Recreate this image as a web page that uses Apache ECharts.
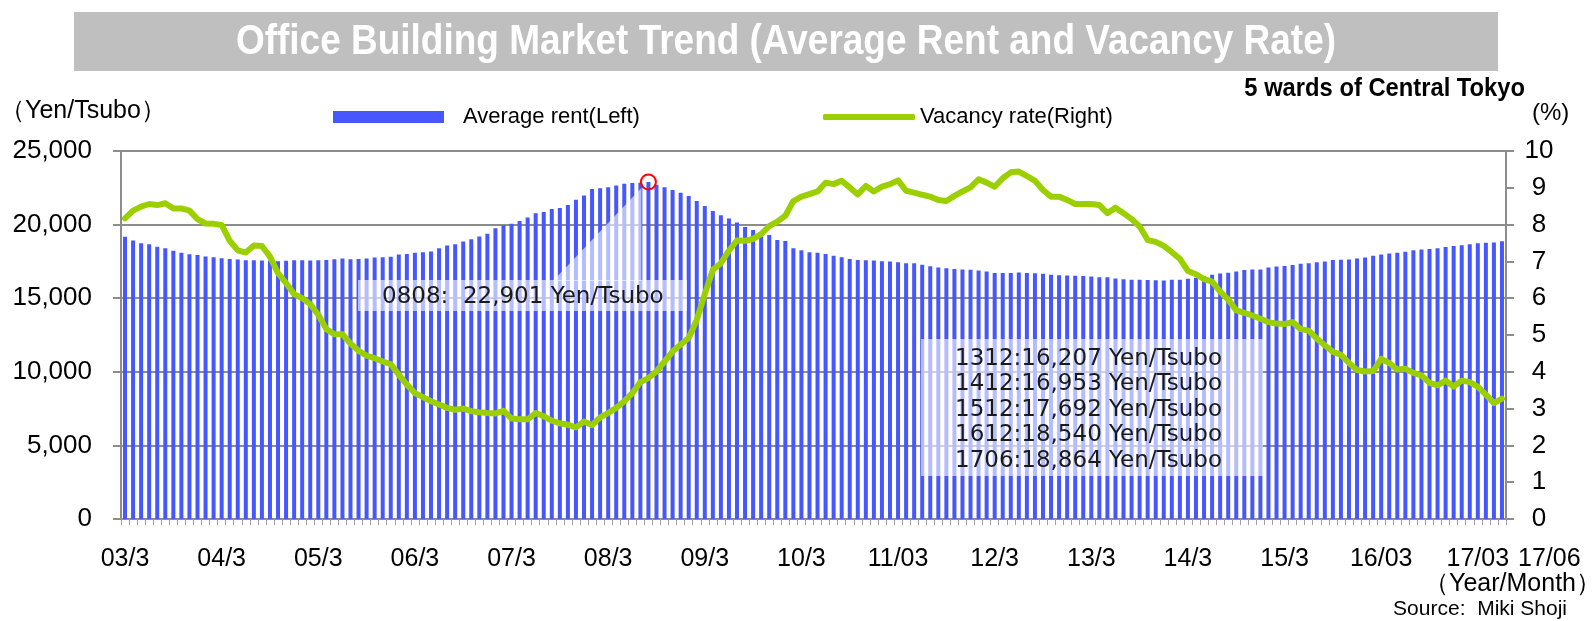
<!DOCTYPE html>
<html>
<head>
<meta charset="utf-8">
<script src="https://cdn.jsdelivr.net/npm/echarts@6/dist/echarts.min.js"></script>
<style>
html, body { margin: 0; padding: 0; background: #fff; }
#chart { width: 1594px; height: 621px; }
</style>
</head>
<body>
<div id="chart"></div>
<script>
// Monthly series, March 2003 through June 2017 (one row per 12 months)
const rent = [
  19170, 18920, 18740, 18670, 18490, 18400, 18220, 18080, 17990, 17940, 17830, 17790,
  17720, 17670, 17630, 17580, 17580, 17560, 17560, 17510, 17540, 17580, 17580, 17560,
  17580, 17600, 17650, 17700, 17650, 17670, 17700, 17760, 17790, 17810, 17970, 18010,
  18080, 18120, 18170, 18400, 18580, 18670, 18860, 19010, 19190, 19370, 19750, 19960,
  20050, 20250, 20480, 20770, 20860, 21060, 21130, 21340, 21680, 21970, 22420, 22470,
  22530, 22650, 22780, 22830, 22850, 22901, 22700, 22530, 22350, 22170, 21950, 21610,
  21270, 20930, 20640, 20410, 20140, 19840, 19640, 19480, 19300, 18960, 18890, 18400,
  18260, 18120, 18080, 18010, 17880, 17790, 17670, 17600, 17580, 17560, 17510, 17490,
  17450, 17380, 17380, 17270, 17170, 17080, 17040, 16990, 16950, 16930, 16880, 16810,
  16720, 16720, 16720, 16750, 16720, 16700, 16660, 16590, 16560, 16540, 16520, 16500,
  16470, 16430, 16430, 16340, 16290, 16250, 16250, 16230, 16220, 16207, 16250, 16250,
  16320, 16390, 16500, 16590, 16680, 16730, 16820, 16910, 16950, 16953, 17090, 17160,
  17180, 17250, 17340, 17380, 17450, 17500, 17590, 17610, 17630, 17692, 17770, 17880,
  17970, 18040, 18090, 18150, 18250, 18310, 18340, 18400, 18470, 18540, 18590, 18660,
  18730, 18760, 18790, 18864
];

const vacancy = [
  8.17, 8.38, 8.49, 8.56, 8.53, 8.58, 8.44, 8.44, 8.38, 8.15, 8.03, 8.02,
  7.99, 7.56, 7.30, 7.24, 7.43, 7.42, 7.13, 6.68, 6.41, 6.11, 6.00, 5.84,
  5.55, 5.16, 5.02, 5.02, 4.77, 4.57, 4.44, 4.37, 4.28, 4.21, 3.92, 3.65,
  3.42, 3.31, 3.20, 3.11, 3.02, 2.97, 3.00, 2.93, 2.90, 2.88, 2.87, 2.94,
  2.73, 2.71, 2.71, 2.88, 2.79, 2.67, 2.60, 2.56, 2.49, 2.65, 2.55, 2.76,
  2.88, 3.02, 3.20, 3.42, 3.72, 3.83, 4.01, 4.28, 4.55, 4.74, 4.92, 5.41,
  6.11, 6.77, 6.95, 7.29, 7.57, 7.56, 7.61, 7.74, 7.96, 8.08, 8.24, 8.64,
  8.76, 8.83, 8.90, 9.14, 9.10, 9.19, 9.01, 8.82, 9.05, 8.90, 9.03, 9.10,
  9.20, 8.92, 8.87, 8.81, 8.76, 8.67, 8.64, 8.78, 8.90, 9.01, 9.23, 9.14,
  9.03, 9.26, 9.42, 9.44, 9.32, 9.19, 8.94, 8.76, 8.76, 8.67, 8.56, 8.56,
  8.56, 8.53, 8.31, 8.46, 8.31, 8.15, 7.95, 7.58, 7.53, 7.42, 7.25, 7.07,
  6.74, 6.65, 6.52, 6.45, 6.18, 5.96, 5.67, 5.60, 5.53, 5.44, 5.35, 5.31,
  5.30, 5.35, 5.16, 5.12, 4.90, 4.72, 4.54, 4.46, 4.24, 4.05, 4.01, 4.02,
  4.35, 4.24, 4.06, 4.08, 3.97, 3.90, 3.70, 3.63, 3.76, 3.60, 3.76, 3.72,
  3.60, 3.38, 3.15, 3.27
];

// Labels shown under every March bar, plus the closing month
const tickLabels = ['03/3', '04/3', '05/3', '06/3', '07/3', '08/3', '09/3', '10/3',
                    '11/03', '12/3', '13/3', '14/3', '15/3', '16/03', '17/03'];
const endLabel = '17/06';

// Highlighted months (YYMM)
const peakMonth = '0808';
const noteMonths = ['1312', '1412', '1512', '1612', '1706'];

// Month keys YYMM, one per bar
const months = [];
for (let i = 0; i < rent.length; i++) {
  const m = 2 + i;               // March 2003 is month index 2
  const yy = 3 + Math.floor(m / 12);
  const mm = (m % 12) + 1;
  months.push(String(yy).padStart(2, '0') + String(mm).padStart(2, '0'));
}

const SANS = "'Liberation Sans', Arial, sans-serif";
const NOTE = "'DejaVu Sans', Verdana, sans-serif";
const GRID = '#8C8C8C';
const BAR = '#4757FF';
const LINE = '#9CCF00';

const fmt = v => v.toLocaleString('en-US');
const rentAt = key => rent[months.indexOf(key)];

const chart = echarts.init(document.getElementById('chart'), null, { renderer: 'canvas' });

chart.setOption({
  animation: false,
  backgroundColor: '#ffffff',
  grid: { left: 121, right: 88, top: 151, bottom: 102, containLabel: false },
  legend: [
    {
      data: ['Average rent(Left)'],
      left: 333, top: 106, padding: 0,
      icon: 'rect', itemWidth: 111, itemHeight: 12,
      selectedMode: false,
      textStyle: { fontFamily: SANS, fontSize: 22, color: '#000', padding: [0, 0, 0, 14] }
    },
    {
      data: ['Vacancy rate(Right)'],
      left: 823, top: 106, padding: 0,
      icon: 'roundRect', itemWidth: 92, itemHeight: 6,
      itemStyle: { color: LINE },
      selectedMode: false,
      textStyle: { fontFamily: SANS, fontSize: 22, color: '#000' }
    }
  ],
  xAxis: {
    type: 'category',
    data: months,
    boundaryGap: true,
    axisLine: { lineStyle: { color: GRID, width: 2 } },
    axisTick: { show: true, interval: 0, length: 6, lineStyle: { color: '#A0A0A0', width: 1 } },
    axisLabel: {
      interval: i => i % 12 === 0,
      formatter: (v, i) => tickLabels[i / 12] || '',
      fontFamily: SANS, fontSize: 25, color: '#000', margin: 28
    },
    splitLine: { show: false }
  },
  yAxis: [
    {
      type: 'value', min: 0, max: 25000, interval: 5000,
      axisLine: { show: true, lineStyle: { color: GRID, width: 2 } },
      axisTick: { show: true, length: 8, lineStyle: { color: GRID, width: 2 } },
      splitLine: { show: true, lineStyle: { color: GRID, width: 2 } },
      axisLabel: { formatter: v => fmt(v), fontFamily: SANS, fontSize: 26, color: '#000', margin: 29 }
    },
    {
      type: 'value', position: 'right', min: 0, max: 10, interval: 1,
      axisLine: { show: true, lineStyle: { color: GRID, width: 2 } },
      axisTick: { show: true, length: 8, lineStyle: { color: GRID, width: 2 } },
      splitLine: { show: false },
      axisLabel: { fontFamily: SANS, fontSize: 26, color: '#000', margin: 33, align: 'center' }
    }
  ],
  series: [
    {
      name: 'Average rent(Left)',
      type: 'bar',
      data: rent,
      barWidth: 4,
      itemStyle: { color: BAR },
      silent: true,
      markPoint: {
        silent: true,
        data: [{
          coord: [peakMonth, rentAt(peakMonth)],
          symbol: 'circle', symbolSize: 15,
          itemStyle: { color: 'rgba(0,0,0,0)', borderColor: '#FF0000', borderWidth: 2 },
          label: { show: false }
        }]
      }
    },
    {
      name: 'Vacancy rate(Right)',
      type: 'line',
      yAxisIndex: 1,
      data: vacancy,
      symbol: 'none',
      silent: true,
      z: 5,
      itemStyle: { color: LINE },
      lineStyle: { color: LINE, width: 6, cap: 'round', join: 'round' }
    }
  ]
});

// Callout pointer toward the peak bar
const peakPx = chart.convertToPixel({ xAxisIndex: 0, yAxisIndex: 0 }, [peakMonth, rentAt(peakMonth)]);

const noteText = noteMonths.map(k => k + ':' + fmt(rentAt(k)) + ' Yen/Tsubo').join('\n');

chart.setOption({
  graphic: [
    // Title band
    { type: 'rect', z: 50, shape: { x: 74, y: 12, width: 1424, height: 59 }, style: { fill: '#BFBFBF' } },
    { type: 'text', z: 51, x: 786, y: 42, scaleX: 0.86, style: {
        text: 'Office Building Market Trend (Average Rent and Vacancy Rate)',
        x: 0, y: 0, textAlign: 'center', textVerticalAlign: 'middle',
        font: 'bold 43px ' + SANS, fill: '#FFFFFF' } },
    { type: 'text', z: 51, x: 1525, y: 89, scaleX: 0.95, style: {
        text: '5 wards of Central Tokyo',
        x: 0, y: 0, textAlign: 'right', textVerticalAlign: 'middle',
        font: 'bold 25px ' + SANS, fill: '#000' } },
    // Axis units
    { type: 'text', z: 51, style: {
        text: '（Yen/Tsubo）', x: 0, y: 111, textAlign: 'left', textVerticalAlign: 'middle',
        font: '25px ' + SANS, fill: '#000' } },
    { type: 'text', z: 51, style: {
        text: '(%)', x: 1532, y: 113, textAlign: 'left', textVerticalAlign: 'middle',
        font: '24px ' + SANS, fill: '#000' } },
    { type: 'text', z: 51, style: {
        text: endLabel, x: 1518, y: 559, textAlign: 'left', textVerticalAlign: 'middle',
        font: '25px ' + SANS, fill: '#000' } },
    { type: 'text', z: 51, style: {
        text: '（Year/Month）', x: 1601, y: 584, textAlign: 'right', textVerticalAlign: 'middle',
        font: '25px ' + SANS, fill: '#000' } },
    { type: 'text', z: 51, style: {
        text: 'Source:  Miki Shoji', x: 1567, y: 609, textAlign: 'right', textVerticalAlign: 'middle',
        font: '21px ' + SANS, fill: '#000' } },
    // Peak note with pointer
    { type: 'polygon', z: 40, shape: { points: [[553, 281], [peakPx[0] - 7, 281], [peakPx[0] - 7, peakPx[1] + 6]] },
      style: { fill: 'rgba(255,255,255,0.6)' } },
    { type: 'rect', z: 40, shape: { x: 358, y: 280, width: 329, height: 31 },
      style: { fill: 'rgba(255,255,255,0.6)' } },
    { type: 'text', z: 41, style: {
        text: peakMonth + ':  ' + fmt(rentAt(peakMonth)) + ' Yen/Tsubo',
        x: 382, y: 297, textAlign: 'left', textVerticalAlign: 'middle',
        font: '23px ' + NOTE, fill: '#1A1A1A' } },
    // Year-end notes
    { type: 'rect', z: 40, shape: { x: 921, y: 339, width: 342, height: 137 },
      style: { fill: 'rgba(255,255,255,0.6)' } },
    { type: 'text', z: 41, style: {
        text: noteText, x: 955, y: 346, textAlign: 'left', textVerticalAlign: 'top',
        font: '23px ' + NOTE, lineHeight: 25.5, fill: '#1A1A1A' } }
  ]
});
</script>
</body>
</html>
